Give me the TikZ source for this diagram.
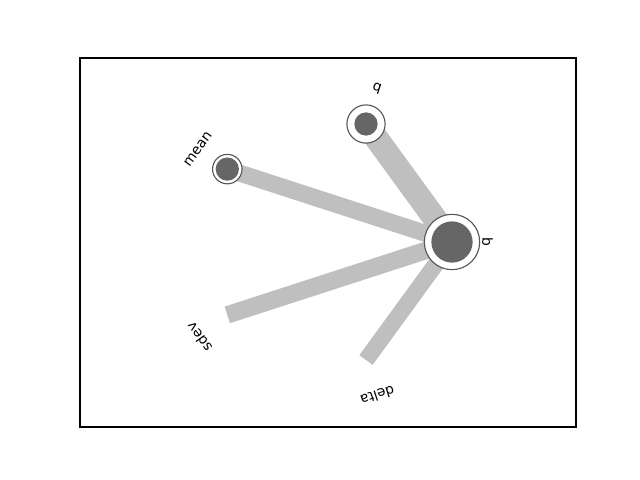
\documentclass[tikz,border=0pt]{standalone}
\usepackage{fontspec}
\setsansfont{DejaVu Sans}
\definecolor{edgegray}{HTML}{BFBFBF}
\definecolor{dotgray}{HTML}{666666}
\definecolor{ringgray}{HTML}{555555}
\begin{document}
\begin{tikzpicture}[x=0.01in,y=-0.01in,
  edge/.style={draw=edgegray, line width=#1, line cap=butt},
  ring/.style={circle, draw=ringgray, line width=0.8pt, fill=white, inner sep=0pt, minimum size=#1},
  dot/.style={circle, fill=dotgray, inner sep=0pt, minimum size=#1},
  lab/.style={font=\sffamily\fontsize{10}{12}\selectfont, inner sep=0pt, anchor=center}]
\useasboundingbox (0,0) rectangle (640,480);
\draw[line width=0.8pt] (80,58) rectangle (576,427);
% node positions
\coordinate (bpos) at (452,242);
\coordinate (qpos) at (366,124);
\coordinate (meanpos) at (227.3,169.1);
\coordinate (sdev) at (227.3,314.9);
\coordinate (delta) at (366,360);
% edges
\draw[edge=17.28pt] (bpos) -- (qpos);
\draw[edge=12.24pt] (bpos) -- (meanpos);
\draw[edge=12.6pt] (bpos) -- (sdev);
\draw[edge=11.88pt] (bpos) -- (delta);
% nodes
\node[ring=40pt] (b) at (bpos) {};
\node[dot=29.8pt] (bin) at (b.center) {};
\node[ring=27.6pt] (q) at (qpos) {};
\node[dot=16.8pt] (qin) at (q.center) {};
\node[ring=21.3pt] (mean) at (meanpos) {};
\node[dot=16.8pt] (meanin) at (mean.center) {};
% labels
\node[lab, rotate=-90] (lb) at (487.6,242) {b};
\node[lab, rotate=-18] (lq) at (376.8,89) {q};
\node[lab, rotate=54] (lmean) at (198,149) {mean};
\node[lab, rotate=126] (lsdev) at (199,337) {sdev};
\node[lab, rotate=198] (ldelta) at (377.5,395.5) {delta};
\end{tikzpicture}
\end{document}
